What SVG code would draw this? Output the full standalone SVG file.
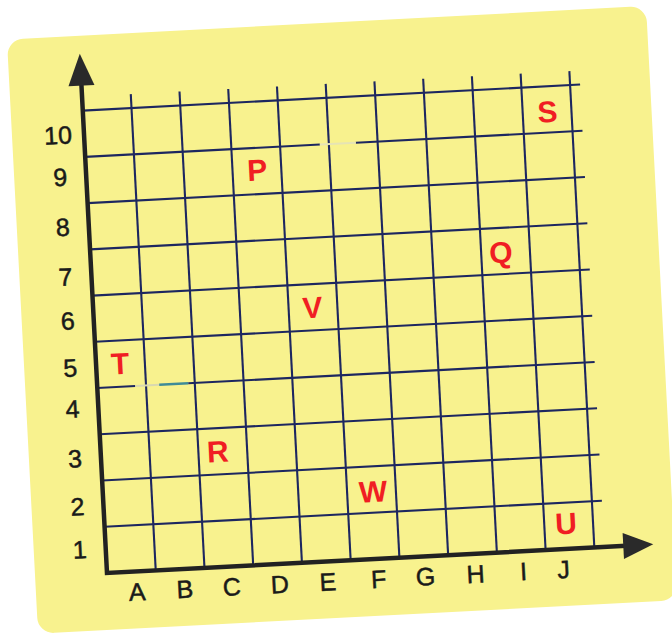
<svg xmlns="http://www.w3.org/2000/svg" width="672" height="636" viewBox="0 0 672 636">
<defs>
<style>
.grid line{stroke:#1d2760;stroke-width:2.1;stroke-linecap:butt}
.axis{fill:none;stroke:#222;stroke-width:4.5;stroke-linejoin:miter}
.head{fill:#2a2a2a}
.lbl{font-family:"Liberation Sans",Arial,sans-serif;font-size:25px;fill:#1a1a1a;stroke:#1a1a1a;stroke-width:0.5;text-anchor:middle}
.pt{font-family:"Liberation Sans",Arial,sans-serif;font-size:30px;font-weight:bold;fill:#f01e23;text-anchor:middle}
</style>
</defs>
<rect width="672" height="636" fill="#ffffff"/>
<g transform="translate(107 573) rotate(-3)">
<rect id="paper" x="-72" y="-538" width="640" height="595" rx="16" fill="#f8f28e"/>
<g id="connectors">
<g class="grid">
<line x1="48.8" y1="0" x2="48.8" y2="-477"/>
<line x1="97.6" y1="0" x2="97.6" y2="-477"/>
<line x1="146.4" y1="0" x2="146.4" y2="-477"/>
<line x1="195.2" y1="0" x2="195.2" y2="-477"/>
<line x1="244" y1="0" x2="244" y2="-477"/>
<line x1="292.8" y1="0" x2="292.8" y2="-477"/>
<line x1="341.6" y1="0" x2="341.6" y2="-477"/>
<line x1="390.4" y1="0" x2="390.4" y2="-477"/>
<line x1="439.2" y1="0" x2="439.2" y2="-477"/>
<line x1="488" y1="0" x2="488" y2="-477"/>
<line x1="0" y1="-46.3" x2="498" y2="-46.3"/>
<line x1="0" y1="-92.6" x2="498" y2="-92.6"/>
<line x1="0" y1="-138.9" x2="498" y2="-138.9"/>
<line x1="0" y1="-185.2" x2="38" y2="-185.2"/>
<line x1="91" y1="-185.2" x2="498" y2="-185.2"/>
<line x1="0" y1="-231.5" x2="498" y2="-231.5"/>
<line x1="0" y1="-277.8" x2="498" y2="-277.8"/>
<line x1="0" y1="-324.1" x2="498" y2="-324.1"/>
<line x1="0" y1="-370.4" x2="498" y2="-370.4"/>
<line x1="0" y1="-416.7" x2="235" y2="-416.7"/>
<line x1="271" y1="-416.7" x2="498" y2="-416.7"/>
<line x1="0" y1="-463" x2="498" y2="-463"/>
</g>
<line x1="38" y1="-185.2" x2="62" y2="-185.2" stroke="#d9d8b0" stroke-width="2"/>
<line x1="62" y1="-185.2" x2="91" y2="-185.2" stroke="#3f8c98" stroke-width="2.4"/>
<line x1="235" y1="-416.7" x2="271" y2="-416.7" stroke="#e6e4b4" stroke-width="2"/>
<polyline class="axis" points="0,-490 0,0 520,0"/>
<polygon class="head" points="-13,-488 0,-520 13,-488"/>
<polygon class="head" points="517,-13 547,0 517,13"/>
</g>
<g id="y-labels">
<text class="lbl" x="-26" y="-16">1</text>
<text class="lbl" x="-26" y="-59">2</text>
<text class="lbl" x="-26" y="-107">3</text>
<text class="lbl" x="-26" y="-157">4</text>
<text class="lbl" x="-26" y="-198">5</text>
<text class="lbl" x="-26" y="-245">6</text>
<text class="lbl" x="-26" y="-289">7</text>
<text class="lbl" x="-26" y="-339">8</text>
<text class="lbl" x="-26" y="-389">9</text>
<text class="lbl" x="-26" y="-431">10</text>
</g>
<g id="x-labels">
<text class="lbl" x="29" y="29">A</text>
<text class="lbl" x="77" y="29">B</text>
<text class="lbl" x="124" y="29">C</text>
<text class="lbl" x="172" y="29">D</text>
<text class="lbl" x="220" y="29">E</text>
<text class="lbl" x="271" y="29">F</text>
<text class="lbl" x="318" y="29">G</text>
<text class="lbl" x="368" y="29">H</text>
<text class="lbl" x="416" y="29">I</text>
<text class="lbl" x="456" y="29">J</text>
</g>
<g id="point-P"><text class="pt" x="171" y="-384">P</text></g>
<g id="point-Q"><text class="pt" x="410" y="-289">Q</text></g>
<g id="point-R"><text class="pt" x="117" y="-105">R</text></g>
<g id="point-S"><text class="pt" x="464" y="-427">S</text></g>
<g id="point-T"><text class="pt" x="24" y="-198">T</text></g>
<g id="point-U"><text class="pt" x="461" y="-15">U</text></g>
<g id="point-V"><text class="pt" x="219" y="-244">V</text></g>
<g id="point-W"><text class="pt" x="270" y="-57">W</text></g>
</g>
</svg>
